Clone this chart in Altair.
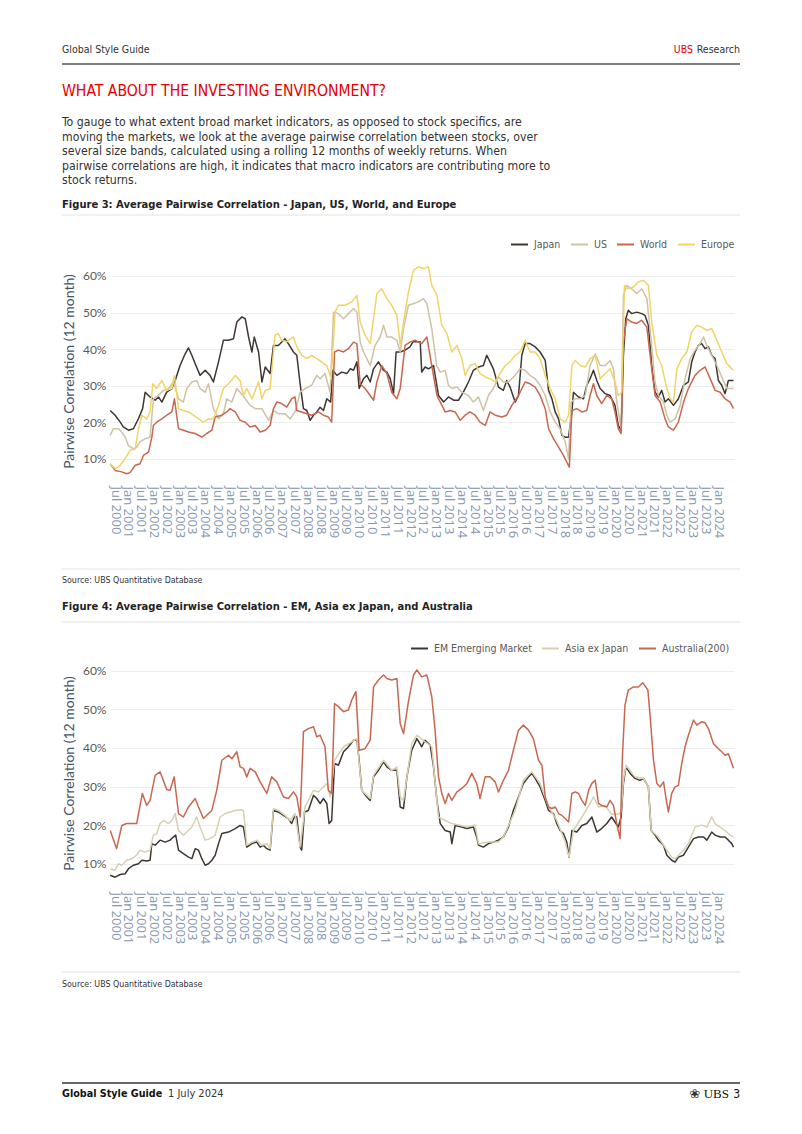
import altair as alt
import pandas as pd

# ---------------- Figure 3 data: (decimal year, pairwise correlation %) ----------------
japan = [(2000.31,23.2),(2000.50,21.9),(2000.70,20.0),(2000.82,18.7),(2001.02,17.8),(2001.21,18.2),(2001.41,21.0),(2001.57,23.7),(2001.67,28.2),(2001.86,26.9),(2002.06,26.0),(2002.19,26.9),(2002.32,25.5),(2002.51,28.2),(2002.71,29.2),(2002.84,31.4),(2003.03,35.5),(2003.23,38.7),(2003.36,40.3),(2003.49,38.3),(2003.62,36.0),(2003.81,32.8),(2004.01,34.2),(2004.20,32.8),(2004.33,31.0),(2004.53,36.5),(2004.72,42.4),(2004.92,42.4),(2005.11,42.8),(2005.24,47.4),(2005.44,48.8),(2005.57,48.3),(2005.70,43.3),(2005.83,39.2),(2005.92,43.3),(2006.09,39.2),(2006.22,31.0),(2006.35,35.1),(2006.54,33.3),(2006.67,41.0),(2006.86,41.0),(2007.12,42.8),(2007.25,41.5),(2007.45,39.2),(2007.58,38.3),(2007.71,30.5),(2007.84,23.7),(2007.97,23.2),(2008.10,20.5),(2008.23,21.9),(2008.36,22.8),(2008.49,24.1),(2008.62,23.2),(2008.75,26.4),(2008.90,25.5),(2008.98,34.2),(2009.14,32.8),(2009.33,33.7),(2009.53,33.3),(2009.66,34.6),(2009.79,34.2),(2009.92,36.5),(2010.01,29.2),(2010.18,31.9),(2010.31,32.8),(2010.44,31.0),(2010.57,34.6),(2010.76,36.5),(2010.96,34.2),(2011.09,33.7),(2011.22,31.9),(2011.35,27.8),(2011.45,39.2),(2011.61,39.2),(2011.80,39.7),(2011.99,40.6),(2012.12,42.1),(2012.26,42.0),(2012.39,42.0),(2012.45,33.7),(2012.58,35.1),(2012.71,34.6),(2012.91,35.5),(2013.10,27.3),(2013.30,25.5),(2013.49,26.9),(2013.69,26.0),(2013.88,26.0),(2014.07,28.2),(2014.27,31.0),(2014.46,34.2),(2014.66,35.1),(2014.85,35.5),(2014.98,38.3),(2015.11,36.5),(2015.24,34.6),(2015.44,29.6),(2015.63,28.7),(2015.76,31.4),(2015.89,29.6),(2016.09,25.5),(2016.22,27.3),(2016.35,38.3),(2016.48,41.5),(2016.67,41.5),(2016.87,40.6),(2017.06,39.2),(2017.26,36.9),(2017.39,28.7),(2017.52,26.4),(2017.65,22.8),(2017.78,20.9),(2017.91,16.4),(2018.04,15.9),(2018.17,15.9),(2018.30,22.8),(2018.36,28.2),(2018.56,26.9),(2018.75,26.4),(2018.88,30.1),(2019.01,31.9),(2019.14,34.2),(2019.27,31.4),(2019.40,29.2),(2019.60,27.8),(2019.79,27.3),(2019.98,24.6),(2020.11,19.1),(2020.22,17.8),(2020.31,38.3),(2020.40,48.3),(2020.50,50.6),(2020.63,49.7),(2020.83,50.1),(2021.02,49.7),(2021.15,49.2),(2021.28,46.5),(2021.41,35.5),(2021.54,28.2),(2021.67,26.9),(2021.80,28.7),(2021.93,25.5),(2022.06,26.4),(2022.26,24.6),(2022.45,26.4),(2022.65,30.1),(2022.84,31.0),(2022.97,36.5),(2023.10,39.2),(2023.23,41.0),(2023.36,41.5),(2023.49,40.1),(2023.62,40.6),(2023.75,38.3),(2023.88,37.4),(2024.01,31.4),(2024.14,30.1),(2024.27,27.8),(2024.40,31.4),(2024.60,31.4)]

us = [(2000.31,16.4),(2000.43,18.2),(2000.63,18.2),(2000.76,17.3),(2000.89,15.9),(2001.02,13.6),(2001.21,12.7),(2001.34,13.2),(2001.47,14.6),(2001.67,15.5),(2001.86,15.9),(2001.99,26.4),(2002.19,27.3),(2002.38,28.7),(2002.58,29.2),(2002.77,31.0),(2002.97,26.4),(2003.16,25.5),(2003.29,29.2),(2003.49,31.0),(2003.68,31.4),(2003.81,29.2),(2004.01,28.2),(2004.14,30.5),(2004.33,23.7),(2004.53,20.9),(2004.72,22.3),(2004.85,26.4),(2005.05,25.5),(2005.24,29.2),(2005.37,28.2),(2005.57,26.4),(2005.76,24.6),(2005.96,23.7),(2006.22,23.7),(2006.48,20.5),(2006.67,23.2),(2006.86,22.3),(2007.12,22.3),(2007.32,20.9),(2007.51,22.8),(2007.71,28.2),(2007.90,29.2),(2008.16,30.1),(2008.36,32.8),(2008.49,31.9),(2008.68,33.3),(2008.88,28.2),(2009.01,50.1),(2009.20,49.7),(2009.40,48.3),(2009.59,49.7),(2009.79,51.1),(2009.92,50.1),(2010.05,41.9),(2010.18,39.2),(2010.31,37.4),(2010.44,35.5),(2010.63,41.0),(2010.83,43.3),(2010.96,46.5),(2011.09,43.3),(2011.28,43.3),(2011.48,42.4),(2011.61,39.2),(2011.74,45.6),(2011.93,52.0),(2012.12,52.4),(2012.32,52.9),(2012.52,53.8),(2012.65,52.4),(2012.84,45.6),(2013.03,35.5),(2013.17,33.7),(2013.36,34.2),(2013.49,30.1),(2013.62,29.2),(2013.82,29.6),(2014.01,28.2),(2014.27,27.3),(2014.46,25.5),(2014.66,26.9),(2014.85,23.2),(2015.05,27.3),(2015.24,29.2),(2015.44,32.4),(2015.63,31.0),(2015.83,31.0),(2016.09,32.8),(2016.28,34.6),(2016.48,34.2),(2016.67,32.8),(2016.87,31.9),(2017.06,30.1),(2017.26,27.3),(2017.45,22.8),(2017.65,20.0),(2017.84,18.2),(2018.04,14.6),(2018.17,10.0),(2018.27,25.5),(2018.43,26.4),(2018.62,26.4),(2018.82,27.3),(2019.01,35.5),(2019.21,38.7),(2019.40,35.5),(2019.60,35.5),(2019.79,36.9),(2019.92,34.6),(2020.05,25.5),(2020.22,18.2),(2020.31,54.7),(2020.44,57.4),(2020.63,56.5),(2020.83,55.2),(2021.02,56.5),(2021.22,53.8),(2021.41,41.0),(2021.54,31.0),(2021.67,27.3),(2021.87,25.5),(2022.00,21.9),(2022.13,20.0),(2022.32,20.9),(2022.52,24.6),(2022.71,31.9),(2022.91,37.4),(2023.10,39.7),(2023.30,41.5),(2023.43,43.3),(2023.56,41.0),(2023.75,38.3),(2023.95,35.5),(2024.14,32.4),(2024.34,29.2),(2024.60,29.2)]

world = [(2000.31,8.6),(2000.50,6.8),(2000.76,6.4),(2000.95,5.9),(2001.08,6.2),(2001.28,8.2),(2001.47,8.6),(2001.60,10.9),(2001.80,11.8),(2001.93,15.9),(2001.99,19.1),(2002.12,20.0),(2002.32,20.9),(2002.51,21.9),(2002.71,22.8),(2002.81,26.4),(2002.97,18.2),(2003.16,17.8),(2003.36,17.3),(2003.62,16.9),(2003.88,15.9),(2004.07,16.9),(2004.27,17.8),(2004.40,21.4),(2004.66,21.9),(2004.85,22.8),(2004.98,23.7),(2005.18,22.8),(2005.37,20.5),(2005.57,20.0),(2005.76,18.7),(2005.96,19.1),(2006.15,17.3),(2006.35,17.8),(2006.54,19.1),(2006.67,23.7),(2006.80,25.5),(2006.99,25.1),(2007.19,24.1),(2007.38,26.4),(2007.51,26.9),(2007.58,23.2),(2007.77,22.8),(2007.97,22.3),(2008.16,21.9),(2008.42,22.8),(2008.62,21.9),(2008.81,21.4),(2008.94,20.0),(2009.05,39.2),(2009.20,39.7),(2009.40,39.2),(2009.59,40.1),(2009.79,41.9),(2009.92,41.5),(2010.05,30.5),(2010.24,29.2),(2010.44,27.3),(2010.57,26.0),(2010.70,31.0),(2010.89,35.5),(2011.09,33.3),(2011.28,28.2),(2011.48,26.4),(2011.61,29.2),(2011.80,41.0),(2011.99,41.9),(2012.19,42.4),(2012.45,41.5),(2012.65,43.3),(2012.84,35.5),(2013.04,27.3),(2013.17,25.5),(2013.36,22.8),(2013.56,23.2),(2013.75,22.8),(2013.95,20.5),(2014.14,21.9),(2014.33,22.8),(2014.53,21.9),(2014.72,20.0),(2014.92,19.1),(2015.11,22.8),(2015.31,21.9),(2015.57,21.4),(2015.76,21.9),(2015.96,24.6),(2016.22,27.3),(2016.48,31.0),(2016.67,30.5),(2016.87,29.6),(2017.06,27.3),(2017.26,23.7),(2017.39,18.2),(2017.58,15.5),(2017.78,13.2),(2017.97,10.9),(2018.10,9.1),(2018.20,7.7),(2018.30,23.2),(2018.49,23.7),(2018.69,22.8),(2018.88,23.2),(2019.01,27.3),(2019.14,30.5),(2019.27,27.3),(2019.46,25.1),(2019.66,27.3),(2019.85,26.4),(2019.98,22.8),(2020.11,18.2),(2020.22,16.9),(2020.31,41.9),(2020.44,48.3),(2020.63,47.4),(2020.83,47.0),(2021.02,47.9),(2021.22,46.0),(2021.41,34.6),(2021.54,27.3),(2021.74,25.5),(2021.93,20.9),(2022.06,18.7),(2022.26,17.8),(2022.45,20.0),(2022.65,25.5),(2022.84,29.2),(2023.10,32.8),(2023.30,34.2),(2023.49,35.1),(2023.69,31.9),(2023.88,28.7),(2024.08,28.2),(2024.27,26.4),(2024.47,25.5),(2024.60,23.7)]

europe = [(2000.31,8.6),(2000.50,7.3),(2000.70,8.2),(2000.89,10.0),(2001.08,12.3),(2001.28,12.7),(2001.41,18.2),(2001.54,21.9),(2001.73,20.9),(2001.86,22.8),(2001.97,30.5),(2002.12,29.2),(2002.32,31.4),(2002.51,28.7),(2002.71,29.2),(2002.81,32.8),(2002.97,23.7),(2003.16,23.2),(2003.36,22.8),(2003.55,21.9),(2003.75,20.9),(2003.94,20.0),(2004.14,20.9),(2004.33,20.9),(2004.53,24.6),(2004.72,29.2),(2004.92,30.5),(2005.18,32.8),(2005.37,31.4),(2005.50,27.3),(2005.63,29.2),(2005.83,26.4),(2005.96,28.7),(2006.09,31.0),(2006.22,26.4),(2006.35,28.7),(2006.54,29.2),(2006.73,43.8),(2006.86,44.2),(2006.99,42.4),(2007.19,42.0),(2007.32,42.8),(2007.45,43.3),(2007.58,40.6),(2007.77,38.3),(2007.97,37.4),(2008.16,38.3),(2008.36,37.4),(2008.55,36.5),(2008.75,35.5),(2008.92,31.9),(2009.07,50.1),(2009.20,52.0),(2009.46,52.0),(2009.72,52.9),(2009.92,54.7),(2010.05,47.4),(2010.24,43.8),(2010.44,41.5),(2010.57,48.3),(2010.70,55.2),(2010.89,56.5),(2011.09,53.8),(2011.28,52.0),(2011.48,49.2),(2011.61,41.0),(2011.74,47.4),(2011.93,55.6),(2012.13,61.6),(2012.32,62.5),(2012.52,62.0),(2012.71,62.5),(2012.84,57.4),(2013.04,54.7),(2013.23,46.5),(2013.43,44.2),(2013.62,39.2),(2013.82,41.0),(2014.01,37.4),(2014.14,32.8),(2014.33,35.5),(2014.53,36.0),(2014.72,33.3),(2014.92,32.4),(2015.11,31.9),(2015.31,31.0),(2015.50,33.3),(2015.70,35.5),(2015.89,36.5),(2016.09,38.3),(2016.28,39.2),(2016.48,42.4),(2016.67,39.2),(2016.87,39.2),(2017.06,37.4),(2017.26,32.8),(2017.45,29.2),(2017.65,26.4),(2017.84,20.9),(2018.04,20.0),(2018.17,21.9),(2018.30,35.5),(2018.43,36.9),(2018.62,35.5),(2018.82,35.1),(2019.01,37.4),(2019.21,38.3),(2019.40,31.9),(2019.60,33.3),(2019.79,34.6),(2019.98,31.0),(2020.11,27.3),(2020.24,28.2),(2020.35,57.4),(2020.50,56.5),(2020.70,57.0),(2020.89,58.4),(2021.09,58.8),(2021.28,57.4),(2021.41,47.4),(2021.61,38.3),(2021.80,35.5),(2022.00,29.2),(2022.13,26.4),(2022.26,25.5),(2022.39,34.6),(2022.58,37.4),(2022.78,39.2),(2022.97,44.7),(2023.17,46.5),(2023.36,46.0),(2023.56,45.1),(2023.75,45.6),(2023.95,42.4),(2024.14,39.2),(2024.34,36.0),(2024.53,34.6),(2024.60,34.2)]

# ---------------- Figure 4 data ----------------
em = [(2000.31,7.0),(2000.50,6.5),(2000.70,7.2),(2000.89,7.4),(2001.02,8.7),(2001.21,9.6),(2001.41,10.0),(2001.54,10.9),(2001.73,10.7),(2001.86,10.9),(2001.93,15.2),(2002.06,14.8),(2002.25,16.1),(2002.45,15.6),(2002.64,16.1),(2002.77,16.9),(2002.86,17.4),(2002.97,13.5),(2003.16,12.6),(2003.36,11.7),(2003.49,11.3),(2003.62,13.9),(2003.75,13.5),(2003.88,11.3),(2004.01,9.6),(2004.14,10.0),(2004.27,10.9),(2004.40,12.2),(2004.53,15.2),(2004.66,17.8),(2004.92,18.2),(2005.18,19.1),(2005.37,19.9),(2005.50,19.5),(2005.63,14.3),(2005.83,15.2),(2006.02,15.6),(2006.15,14.3),(2006.28,14.8),(2006.41,13.9),(2006.54,13.5),(2006.67,23.8),(2006.86,23.4),(2007.06,22.5),(2007.25,21.7),(2007.38,20.4),(2007.51,22.5),(2007.58,22.1),(2007.71,14.3),(2007.77,13.5),(2007.88,23.4),(2008.03,23.8),(2008.23,27.7),(2008.36,26.9),(2008.49,25.6),(2008.62,26.9),(2008.75,25.6),(2008.84,20.4),(2008.94,21.2),(2009.05,36.0),(2009.20,35.5),(2009.40,39.0),(2009.59,40.3),(2009.79,42.0),(2009.92,42.0),(2010.01,36.8),(2010.11,29.0),(2010.31,27.3),(2010.44,26.4),(2010.57,32.5),(2010.76,34.2),(2010.96,36.4),(2011.09,35.1),(2011.28,34.2),(2011.48,34.2),(2011.61,24.7),(2011.74,24.3),(2011.87,32.5),(2012.06,39.4),(2012.26,42.4),(2012.45,40.3),(2012.58,42.0),(2012.78,40.7),(2012.91,35.1),(2013.04,26.4),(2013.17,20.4),(2013.36,18.6),(2013.56,18.2),(2013.62,15.2),(2013.75,19.9),(2014.01,19.5),(2014.21,19.1),(2014.46,19.5),(2014.59,16.9),(2014.66,14.8),(2014.85,14.3),(2015.05,15.2),(2015.24,15.6),(2015.44,16.1),(2015.63,16.9),(2015.83,19.5),(2016.02,23.8),(2016.22,27.3),(2016.41,30.8),(2016.61,32.5),(2016.74,33.4),(2016.87,32.1),(2017.06,29.9),(2017.26,26.4),(2017.39,23.8),(2017.58,23.0),(2017.71,20.4),(2017.84,18.6),(2017.97,17.8),(2018.10,15.6),(2018.19,11.7),(2018.30,18.6),(2018.49,18.2),(2018.69,19.9),(2018.88,20.4),(2019.08,22.1),(2019.27,18.2),(2019.46,19.1),(2019.66,20.4),(2019.85,22.1),(2019.98,20.8),(2020.11,19.5),(2020.22,22.1),(2020.31,30.8),(2020.41,35.1),(2020.57,33.4),(2020.76,32.1),(2020.96,31.6),(2021.09,32.1),(2021.28,29.9),(2021.39,18.6),(2021.54,17.4),(2021.67,16.1),(2021.87,14.8),(2022.00,12.2),(2022.19,10.9),(2022.32,10.4),(2022.45,11.7),(2022.65,12.2),(2022.84,14.3),(2023.04,16.5),(2023.23,16.9),(2023.43,16.9),(2023.56,16.1),(2023.75,18.2),(2023.88,17.4),(2024.08,16.9),(2024.27,16.9),(2024.40,16.1),(2024.53,15.2),(2024.60,14.3)]

asia_ex_japan = [(2000.31,8.7),(2000.50,8.3),(2000.63,10.0),(2000.76,9.6),(2000.95,10.9),(2001.15,11.3),(2001.34,12.2),(2001.47,13.5),(2001.67,13.0),(2001.86,13.5),(2001.99,17.4),(2002.12,17.8),(2002.25,20.4),(2002.38,21.2),(2002.58,20.4),(2002.71,21.2),(2002.84,23.0),(2002.97,18.6),(2003.16,17.4),(2003.29,18.2),(2003.49,19.5),(2003.68,22.1),(2003.81,19.5),(2004.01,16.1),(2004.20,16.5),(2004.40,17.4),(2004.59,22.1),(2004.79,23.0),(2004.98,23.4),(2005.18,23.8),(2005.37,24.0),(2005.50,23.8),(2005.63,14.8),(2005.83,15.6),(2006.02,16.1),(2006.22,14.8),(2006.41,15.2),(2006.54,13.9),(2006.67,24.3),(2006.86,23.8),(2007.12,22.5),(2007.32,21.2),(2007.51,23.0),(2007.71,14.3),(2007.90,24.7),(2008.23,29.0),(2008.42,28.6),(2008.75,30.8),(2008.88,27.3),(2009.05,36.8),(2009.40,40.3),(2009.72,41.6),(2009.92,42.4),(2010.11,29.0),(2010.44,26.9),(2010.57,32.9),(2010.96,36.8),(2011.28,34.2),(2011.48,35.1),(2011.61,27.3),(2011.74,26.4),(2012.06,41.1),(2012.26,43.3),(2012.58,41.6),(2012.84,40.3),(2013.10,22.1),(2013.36,21.2),(2013.62,20.4),(2013.88,20.0),(2014.21,19.5),(2014.53,20.0),(2014.66,15.2),(2015.05,15.6),(2015.44,15.6),(2015.63,16.9),(2016.09,23.8),(2016.41,31.6),(2016.74,33.8),(2017.06,30.8),(2017.39,24.7),(2017.71,21.2),(2018.04,15.6),(2018.19,11.7),(2018.36,18.6),(2018.69,22.1),(2019.01,25.6),(2019.14,27.3),(2019.34,24.7),(2019.59,25.1),(2019.85,22.8),(2020.11,22.8),(2020.22,23.4),(2020.31,31.6),(2020.41,35.5),(2020.76,32.5),(2021.09,32.1),(2021.28,29.9),(2021.39,18.6),(2021.67,16.9),(2022.00,13.5),(2022.19,11.7),(2022.32,11.3),(2022.65,13.5),(2022.84,15.2),(2023.10,19.5),(2023.36,20.0),(2023.56,19.5),(2023.75,22.1),(2023.88,20.4),(2024.08,19.5),(2024.27,18.6),(2024.47,17.4),(2024.60,16.9)]

australia = [(2000.31,18.6),(2000.56,13.9),(2000.76,19.9),(2000.95,20.4),(2001.15,20.4),(2001.34,20.4),(2001.41,23.0),(2001.56,28.2),(2001.73,25.1),(2001.86,26.4),(2002.06,32.9),(2002.25,33.8),(2002.51,29.2),(2002.64,29.0),(2002.80,32.5),(2002.97,23.0),(2003.16,22.1),(2003.36,24.7),(2003.62,26.9),(2003.75,24.7),(2003.94,21.7),(2004.14,23.0),(2004.27,23.8),(2004.46,29.0),(2004.66,36.8),(2004.92,38.1),(2005.05,37.2),(2005.24,39.0),(2005.37,35.1),(2005.50,34.7),(2005.63,32.5),(2005.76,34.7),(2005.96,33.8),(2006.15,31.2),(2006.41,28.2),(2006.60,32.5),(2006.80,31.2),(2007.06,27.3),(2007.25,26.9),(2007.45,28.6),(2007.58,27.3),(2007.71,22.1),(2007.84,44.2),(2008.03,45.0),(2008.23,45.5),(2008.36,42.9),(2008.49,43.3),(2008.68,40.3),(2008.81,29.0),(2008.94,28.2),(2009.05,51.5),(2009.20,50.7),(2009.40,49.4),(2009.59,49.8),(2009.72,52.4),(2009.88,54.6),(2010.01,39.4),(2010.24,39.8),(2010.44,42.0),(2010.57,55.8),(2010.76,57.6),(2010.96,58.9),(2011.09,58.0),(2011.28,57.6),(2011.48,58.0),(2011.61,46.3),(2011.74,43.7),(2011.93,52.0),(2012.13,58.9),(2012.26,60.2),(2012.45,58.4),(2012.65,58.9),(2012.84,53.3),(2012.97,44.6),(2013.10,32.5),(2013.23,28.2),(2013.36,25.6),(2013.49,28.2),(2013.62,26.4),(2013.82,28.6),(2014.01,29.5),(2014.21,30.8),(2014.40,33.4),(2014.59,30.8),(2014.72,26.9),(2014.92,32.5),(2015.11,32.5),(2015.31,31.2),(2015.44,28.6),(2015.63,31.6),(2015.83,34.2),(2016.02,39.4),(2016.22,44.6),(2016.41,45.9),(2016.61,44.6),(2016.80,42.4),(2017.00,36.8),(2017.13,35.5),(2017.26,27.3),(2017.39,24.7),(2017.52,24.3),(2017.65,24.7),(2017.78,23.0),(2017.91,22.5),(2018.04,21.7),(2018.17,20.8),(2018.30,28.2),(2018.43,28.6),(2018.56,28.2),(2018.69,26.4),(2018.82,25.1),(2018.95,29.0),(2019.08,30.8),(2019.21,31.6),(2019.34,25.6),(2019.46,25.1),(2019.66,24.7),(2019.79,26.4),(2019.92,25.1),(2020.05,20.4),(2020.18,16.5),(2020.27,37.7),(2020.37,51.1),(2020.50,55.0),(2020.70,55.8),(2020.89,55.8),(2021.06,56.9),(2021.26,55.0),(2021.35,48.1),(2021.48,36.8),(2021.61,30.8),(2021.74,29.9),(2021.87,31.2),(2022.00,25.6),(2022.06,23.4),(2022.19,28.2),(2022.32,29.9),(2022.45,30.3),(2022.58,35.9),(2022.71,40.3),(2022.84,43.3),(2023.04,47.2),(2023.17,45.9),(2023.36,46.8),(2023.49,46.5),(2023.62,45.0),(2023.82,41.1),(2024.01,39.8),(2024.14,39.0),(2024.27,38.1),(2024.40,38.5),(2024.53,36.0),(2024.60,34.7)]

# ---------------- labels ----------------
fig3_names = ["Japan", "US", "World", "Europe"]
fig3_colors = ["#3f3631", "#cfc3a6", "#c8674f", "#f1d468"]
fig4_names = ["EM Emerging Market", "Asia ex Japan", "Australia(200)"]
fig4_colors = ["#3f3631", "#d9d0b0", "#c8674f"]
tick_labels = ["Jul 2000", "Jan 2001", "Jul 2001", "Jan 2002", "Jul 2002", "Jan 2003", "Jul 2003",
               "Jan 2004", "Jul 2004", "Jan 2005", "Jul 2005", "Jan 2006", "Jul 2006", "Jan 2007",
               "Jul 2007", "Jan 2008", "Jul 2008", "Jan 2009", "Jul 2009", "Jan 2010", "Jul 2010",
               "Jan 2011", "Jul 2011", "Jan 2012", "Jul 2012", "Jan 2013", "Jul 2013", "Jan 2014",
               "Jul 2014", "Jan 2015", "Jul 2015", "Jan 2016", "Jul 2016", "Jan 2017", "Jul 2017",
               "Jan 2018", "Jul 2018", "Jan 2019", "Jul 2019", "Jan 2020", "Jul 2020", "Jan 2021",
               "Jul 2021", "Jan 2022", "Jul 2022", "Jan 2023", "Jul 2023", "Jan 2024"]
y_ticks = [0.1, 0.2, 0.3, 0.4, 0.5, 0.6]

paragraph = [
    "To gauge to what extent broad market indicators, as opposed to stock specifics, are",
    "moving the markets, we look at the average pairwise correlation between stocks, over",
    "several size bands, calculated using a rolling 12 months of weekly returns. When",
    "pairwise correlations are high, it indicates that macro indicators are contributing more to",
    "stock returns.",
]

NARROW = "Liberation Sans Narrow, Arial Narrow, DejaVu Sans Condensed, Liberation Sans"
UI = "Lato, Open Sans, sans-serif"
XLAB = "Open Sans, Lato, sans-serif"
W = 624


def to_ts(t):
    yr = int(t)
    return pd.Timestamp(year=yr, month=1, day=1) + pd.Timedelta(days=(t - yr) * 365.25)


def frame(series, names):
    rows = []
    for name, pts in zip(names, series):
        for t, v in pts:
            rows.append({"date": to_ts(t), "value": v / 100.0, "series": name})
    return pd.DataFrame(rows)


tick_values = []
for lab in tick_labels:
    d = pd.to_datetime(lab, format="%b %Y")
    tick_values.append(alt.DateTime(year=d.year, month=d.month, date=1))

x_domain = [alt.DateTime(year=2000, month=4, date=20), alt.DateTime(year=2024, month=8, date=14)]
one = pd.DataFrame({"k": [0]})


def text(t, x, y, size, color="#333333", font=NARROW, weight="normal", align="left", baseline="middle", **kw):
    return alt.Chart(one).mark_text(text=t, align=align, baseline=baseline, font=font, fontSize=size,
                                    fontWeight=weight, color=color, **kw).encode(
        x=alt.value(x), y=alt.value(y))


def hrule(x1, x2, y, color, width):
    return alt.Chart(one).mark_rule(color=color, strokeWidth=width).encode(
        x=alt.value(x1), x2=alt.value(x2), y=alt.value(y))


def band(y1, y2):
    return alt.Chart(one).mark_rect(color="#ffffff", opacity=0).encode(
        x=alt.value(-110), x2=alt.value(692), y=alt.value(y1), y2=alt.value(y2))


def panel(df, names, colors, height, ydom, field, lx, ly):
    return alt.Chart(df).mark_line(strokeWidth=1.5, strokeJoin="round").encode(
        x=alt.X("date:T", title=None, scale=alt.Scale(domain=x_domain),
                axis=alt.Axis(values=tick_values, format="%b %Y", labelAngle=90, labelAlign="left",
                              labelBaseline="middle", labelOverlap=False, ticks=False, domain=False,
                              grid=False, labelPadding=9, labelFont=XLAB, labelFontSize=13,
                              labelColor="#8497b0", labelFlush=False)),
        y=alt.Y("value:Q", title="Pairwise Correlation (12 month)",
                scale=alt.Scale(domain=ydom, nice=False, zero=False),
                axis=alt.Axis(values=y_ticks, format=".0%", ticks=False, domain=False, grid=True,
                              gridColor="#eeeeee", gridWidth=1, labelFont=UI, labelFontSize=12,
                              labelColor="#595959", labelPadding=4, titleFont=UI, titleFontSize=14,
                              titleFontWeight="normal", titleColor="#44546a", titlePadding=6)),
        color=alt.Color(field + ":N", sort=names,
                        scale=alt.Scale(domain=names, range=colors),
                        legend=alt.Legend(title=None, orient="none", legendX=lx, legendY=ly,
                                          direction="horizontal", symbolType="stroke",
                                          symbolStrokeWidth=2, symbolSize=289, labelFont=NARROW,
                                          labelFontSize=10.5, labelColor="#595959", labelOffset=5,
                                          columnPadding=6)),
    ).properties(width=W, height=height)


df3 = frame([japan, us, world, europe], fig3_names).rename(columns={"series": "s3"})
df4 = frame([em, asia_ex_japan, australia], fig4_names).rename(columns={"series": "s4"})

# ---------------- top panel (page header + Figure 3) ----------------
top = alt.layer(
    band(-265, 327),
    text("Global Style Guide", -48, -215, 10.5),
    text("Research", 630, -215, 10.5, align="right"),
    text("UBS", 583, -215, 10.5, color="#e60000", align="right"),
    hrule(-48, 630, -201, "#555555", 1.5),
    text("WHAT ABOUT THE INVESTING ENVIRONMENT?", -48, -174, 15.6, color="#e60000"),
    alt.Chart(one).mark_text(text=paragraph, align="left", baseline="top", font=NARROW, fontSize=12.2,
                             lineHeight=14.5, color="#333333").encode(x=alt.value(-48), y=alt.value(-149)),
    text("Figure 3: Average Pairwise Correlation - Japan, US, World, and Europe", -48, -60, 11.1,
         weight="bold", color="#222222"),
    hrule(-48, 630, -50, "#e3e3e3", 1),
    panel(df3, fig3_names, fig3_colors, 212, [0.05, 0.63], "s3", 400, -30),
    hrule(-48, 630, 304, "#e3e3e3", 1),
    text("Source: UBS Quantitative Database", -48, 315, 8.8),
)

# ---------------- bottom panel (Figure 4 + footer) ----------------
bottom = alt.layer(
    band(-71, 471),
    text("Figure 4: Average Pairwise Correlation - EM, Asia ex Japan, and Australia", -48, -56, 11.1,
         weight="bold", color="#222222"),
    hrule(-48, 630, -41, "#e3e3e3", 1),
    panel(df4, fig4_names, fig4_colors, 220, [0.05, 0.62], "s4", 300, -24),
    hrule(-48, 630, 309, "#e3e3e3", 1),
    text("Source: UBS Quantitative Database", -48, 321, 8.8),
    hrule(-48, 630, 420, "#333333", 1.5),
    text("Global Style Guide", -48, 431, 10.7, weight="bold", color="#111111"),
    text("1 July 2024", 58, 431, 11, color="#333333"),
    text("3", 630, 431, 12, align="right", color="#111111"),
    text("UBS", 619, 431, 13, align="right", font="Liberation Serif", color="#111111"),
    text("\u2740", 590, 431, 13, align="right", font="DejaVu Sans", color="#333333"),
)

chart = alt.vconcat(top, bottom, spacing=0).resolve_scale(
    color="independent", x="independent", y="independent"
).resolve_legend(color="independent").properties(
    padding=0, background="#ffffff"
).configure_view(stroke=None, strokeWidth=0)

chart.save("out.html", embed_options={"renderer": "svg", "actions": False})
